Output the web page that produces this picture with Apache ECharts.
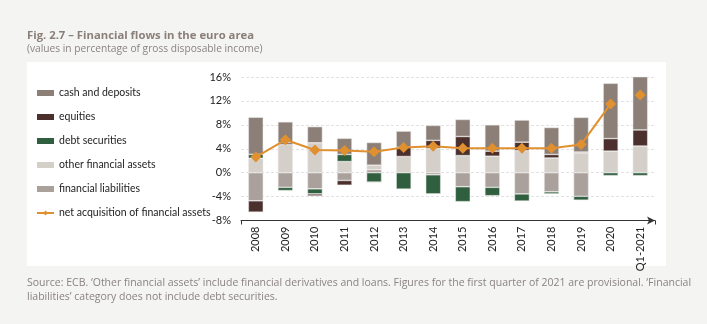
<!DOCTYPE html>
<html>
<head>
<meta charset="utf-8">
<script src="https://cdn.jsdelivr.net/npm/echarts@6/dist/echarts.min.js"></script>
<style>html,body{margin:0;padding:0;background:#f4f4f3;}#c{width:707px;height:324px;}</style>
</head>
<body>
<div id="c"></div>
<script>
var categories = ['2008','2009','2010','2011','2012','2013','2014','2015','2016','2017','2018','2019','2020','Q1-2021'];
var cashDeposits = [6.2, 3.5, 2.7, 2.7, 3.8, 2.7, 2.5, 2.85, 4.4, 3.7, 4.5, 5.8, 9.25, 8.9];
var equities = [-1.9, 0.3, -0.35, -0.8, 0, 1.55, 1.35, 3.2, 0.85, 1.4, 0.6, 0.15, 2.1, 2.7];
var debtSecurities = [0.67, -0.55, -0.85, 1.2, -1.6, -2.75, -3.2, -2.5, -1.4, -1.2, -0.35, -0.65, -0.5, -0.5];
var otherAssets = [2.4, 4.7, 5.0, 1.85, 0.75, 2.7, 4.05, 2.85, 2.75, 3.7, 2.45, 3.3, 3.6, 4.45];
var liabilities = [-4.7, -2.45, -2.7, -1.3, 0.5, 0, -0.35, -2.35, -2.45, -3.55, -3.2, -3.95, 0, 0];
var netAnnual = [2.6, 5.5, 3.8, 3.7, 3.5, 4.2, 4.4, 4.1, 4.1, 4.1, 4.1, 4.7, 11.5, '-'];
var netQuarter = ['-','-','-','-','-','-','-','-','-','-','-','-','-', 13.0];
var yTicks = { min: -8, max: 16, interval: 4 };

var C = {cash:'#8b7f78', eq:'#4b302d', debt:'#2f5f3f', other:'#d5cfca', liab:'#aba19c', net:'#e0902f'};
var FONT = 'Lato';
var chart = echarts.init(document.getElementById('c'), null, {renderer:'canvas'});
function bar(name, data, color) {
  return {name:name, type:'bar', stack:'s', data:data, barWidth:15,
    itemStyle:{color:color, borderColor:'rgba(235,233,230,0.9)', borderWidth:0.6}};
}
var NET = 'net acquisition of financial assets';
chart.setOption({
  backgroundColor:'#f4f4f3',
  animation:false,
  textStyle:{fontFamily:FONT},
  graphic:[{type:'rect', z:-10, shape:{x:27, y:62, width:639, height:204}, style:{fill:'#ffffff'}}],
  title:[
    {text:'Fig. 2.7 \u2013 Financial flows in the euro area', subtext:'(values in percentage of gross disposable income)',
     left:22, top:25, itemGap:3,
     textStyle:{fontFamily:'Open Sans', fontSize:11.3, fontWeight:'bold', color:'#8a7f79'},
     subtextStyle:{fontFamily:'Open Sans', fontSize:10.2, color:'#8a8380'}},
    {text:'Source: ECB. \u2018Other financial assets\u2019 include financial derivatives and loans. Figures for the first quarter of 2021 are provisional. \u2018Financial\nliabilities\u2019 category does not include debt securities.',
     left:22, top:271,
     textStyle:{fontFamily:'Open Sans', fontSize:10.5, fontWeight:'normal', color:'#8a8380', lineHeight:14}}
  ],
  legend:{orient:'vertical', left:36, top:87, padding:0, itemWidth:17, itemHeight:6, itemGap:12,
    itemStyle:{borderWidth:0},
    textStyle:{fontFamily:FONT, fontSize:10.5, color:'#222', lineHeight:12},
    data:[{name:'cash and deposits', icon:'rect'},{name:'equities', icon:'rect'},{name:'debt securities', icon:'rect'},
          {name:'other financial assets', icon:'rect'},{name:'financial liabilities', icon:'rect'},{name:NET}]},
  grid:{left:241, right:52, top:77, bottom:103.5, containLabel:false},
  xAxis:{type:'category', data:categories, boundaryGap:true,
    axisLine:{onZero:false, symbol:['none','arrow'], symbolSize:[6,8], lineStyle:{color:'#333', width:1}},
    axisTick:{show:true, length:4, interval:function(i){return i===0;}, lineStyle:{color:'#333'}},
    axisLabel:{rotate:90, fontSize:11, color:'#222', margin:6, fontFamily:FONT}},
  yAxis:{type:'value', min:yTicks.min, max:yTicks.max, interval:yTicks.interval,
    axisLine:{show:false}, axisTick:{show:false},
    axisLabel:{formatter:'{value}%', fontSize:11, color:'#222', margin:10, fontFamily:FONT},
    splitLine:{lineStyle:{color:'#e2e2e2', type:[3,2], width:1}}},
  series:[
    bar('financial liabilities', liabilities, C.liab),
    bar('other financial assets', otherAssets, C.other),
    bar('debt securities', debtSecurities, C.debt),
    bar('equities', equities, C.eq),
    bar('cash and deposits', cashDeposits, C.cash),
    {name:NET, type:'line', data:netAnnual, symbol:'diamond', symbolSize:11, z:5,
     lineStyle:{color:C.net, width:2}, itemStyle:{color:C.net}},
    {name:NET, type:'line', data:netQuarter, symbol:'diamond', symbolSize:11, z:5,
     lineStyle:{color:C.net, width:2}, itemStyle:{color:C.net}}
  ]
});
</script>
</body>
</html>
